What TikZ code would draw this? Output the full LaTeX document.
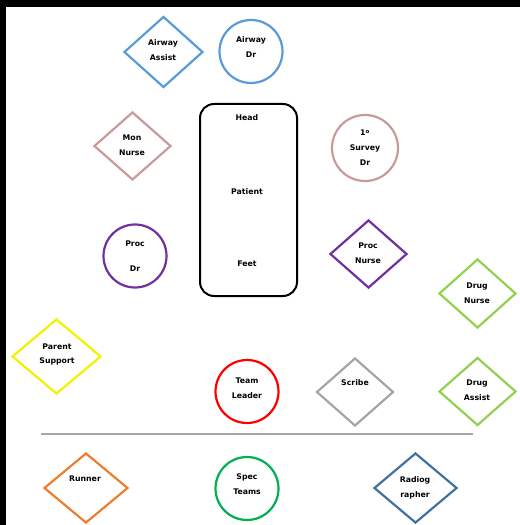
\documentclass[tikz,border=0pt]{standalone}
\usepackage{fontspec}
\setmainfont{DejaVu Sans}
\usepackage{tikz}
\usetikzlibrary{shapes.geometric}

\definecolor{airblue}{HTML}{5B9BD5}
\definecolor{rose}{HTML}{C99A9A}
\definecolor{procpurple}{HTML}{7030A0}
\definecolor{druggreen}{HTML}{92D050}
\definecolor{parentyellow}{HTML}{F2F200}
\definecolor{scribegrey}{HTML}{A5A5A5}
\definecolor{runorange}{HTML}{ED7D31}
\definecolor{specgreen}{HTML}{00B050}
\definecolor{radioblue}{HTML}{41719C}
\definecolor{rulegrey}{HTML}{A6A6A6}

\tikzset{
    dia/.style={diamond, draw=#1, line width=2.2bp, minimum width=77bp, minimum height=68bp, inner sep=0pt},
    circ/.style={circle, draw=#1, line width=2.2bp, minimum size=63bp, inner sep=0pt},
    lbl/.style={font=\fontsize{7.8}{15}\selectfont\bfseries, align=center, inner sep=0pt}
}

\begin{document}
\begin{tikzpicture}[x=1bp, y=-1bp]
        \useasboundingbox (0,0) rectangle (520,525);
        \fill[black] (0,0) rectangle (520,7);
        \fill[black] (0,0) rectangle (6,525);

        % patient in the middle
        \node[draw, line width=2bp, rounded corners=14bp, minimum width=97bp, minimum height=192bp] (patient) at (248.5,200) {};
        \node[lbl] (head) at (247,118) {Head};
        \node[lbl] (body) at (247,192) {Patient};
        \node[lbl] (feet) at (247,264) {Feet};

        % airway
        \node[dia=airblue, minimum width=79bp, minimum height=71bp] (airassist) at (163.5,52) {};
        \node[lbl] (airassist-t) at (163,50.5) {Airway\\Assist};
        \node[circ=airblue] (airdr) at (251,51.5) {};
        \node[lbl] (airdr-t) at (251,47.5) {Airway\\Dr};

        % monitoring and survey
        \node[dia=rose] (monnurse) at (132.5,146) {};
        \node[lbl] (monnurse-t) at (132,145) {Mon\\Nurse};
        \node[circ=rose, minimum height=66bp] (survey) at (365,148) {};
        \node[lbl] (survey-t) at (365,148) {1\textsuperscript{o}\\Survey\\Dr};

        % procedures
        \node[circ=procpurple] (procdr) at (135,256) {};
        \node[lbl] (procdr-t) at (135,256.5) {Proc\\[10bp]Dr};
        \node[dia=procpurple] (procnurse) at (368.5,254) {};
        \node[lbl] (procnurse-t) at (368,253.5) {Proc\\Nurse};

        % drugs
        \node[dia=druggreen, minimum height=69bp] (drugnurse) at (477.5,293.5) {};
        \node[lbl] (drugnurse-t) at (477,293.5) {Drug\\Nurse};
        \node[dia=druggreen] (drugassist) at (477.5,391.5) {};
        \node[lbl] (drugassist-t) at (477,390.5) {Drug\\Assist};

        % parent, leader, scribe
        \node[dia=parentyellow, minimum width=89bp, minimum height=75bp] (parent) at (56.5,356.5) {};
        \node[lbl] (parent-t) at (57,354.5) {Parent\\Support};
        \node[circ=red] (leader) at (247,391.5) {};
        \node[lbl] (leader-t) at (247,388) {Team\\Leader};
        \node[dia=scribegrey] (scribe) at (355,392) {};
        \node[lbl] (scribe-t) at (355,383) {Scribe};

        \draw[rulegrey, line width=1.2bp] (41,434) -- (473,434);

        % outside the room
        \node[dia=runorange, minimum width=84bp, minimum height=70bp] (runner) at (86,488) {};
        \node[lbl] (runner-t) at (85,479) {Runner};
        \node[circ=specgreen] (spec) at (247,488.5) {};
        \node[lbl] (spec-t) at (247,484.5) {Spec\\Teams};
        \node[dia=radioblue, minimum width=83bp, minimum height=70bp] (radio) at (415.5,488) {};
        \node[lbl] (radio-t) at (415,488) {Radiog\\rapher};
    \end{tikzpicture}
\end{document}
